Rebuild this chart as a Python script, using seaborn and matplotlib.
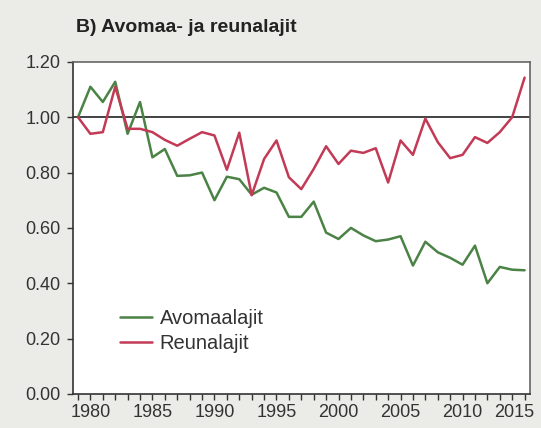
import seaborn as sns
import matplotlib.pyplot as plt
import matplotlib.transforms as mtransforms
import pandas as pd

years = list(range(1979, 2016))
avomaa = [1.00, 1.11, 1.055, 1.128, 0.94, 1.055, 0.855, 0.885, 0.788, 0.79, 0.80, 0.70,
          0.785, 0.776, 0.72, 0.745, 0.728, 0.64, 0.64, 0.695, 0.583, 0.56, 0.60, 0.573,
          0.552, 0.558, 0.57, 0.464, 0.55, 0.512, 0.492, 0.467, 0.536, 0.40, 0.459, 0.449, 0.447]
reuna = [1.00, 0.94, 0.946, 1.11, 0.958, 0.958, 0.946, 0.918, 0.897, 0.922, 0.946, 0.934,
         0.81, 0.944, 0.718, 0.849, 0.916, 0.783, 0.74, 0.813, 0.895, 0.831, 0.879, 0.871,
         0.888, 0.764, 0.916, 0.864, 0.995, 0.91, 0.852, 0.864, 0.928, 0.907, 0.946, 1.00, 1.143]
series_names = ["Avomaalajit", "Reunalajit"]
y_ticks = [0.0, 0.2, 0.4, 0.6, 0.8, 1.0, 1.2]
x_labels = [1980, 1985, 1990, 1995, 2000, 2005, 2010, 2015]

df = pd.DataFrame({
    "year": years * 2,
    "index": avomaa + reuna,
    "group": [series_names[0]] * len(years) + [series_names[1]] * len(years),
})

sns.set_style("white")
plt.rcParams["font.family"] = ["Liberation Sans", "DejaVu Sans"]

fig = plt.figure(figsize=(5.41, 4.28), dpi=100, facecolor="#ebebe8")
ax = fig.add_axes([0.135, 0.0795, 0.845, 0.776])
ax.set_facecolor("white")

sns.lineplot(data=df, x="year", y="index", hue="group", ax=ax,
             palette={"Avomaalajit": "#4b8245", "Reunalajit": "#c23a55"},
             linewidth=1.8)
ax.axhline(1.0, color="#222222", linewidth=1.2, zorder=1)

ax.set_xlim(1978.6, 2015.45)
ax.set_ylim(0, 1.2)
ax.set_yticks(y_ticks)
ax.set_yticklabels([f"{v:.2f}" for v in y_ticks])
ax.set_xticks(x_labels)
ax.set_xticks(years, minor=True)
ax.tick_params(axis="both", which="both", direction="out", length=4, width=1,
               color="#333333", labelsize=13, labelcolor="#333333",
               bottom=True, left=True)
ax.tick_params(axis="y", pad=5)
ax.tick_params(axis="x", which="major", pad=3)
# last year label pulled inside the frame like in the original
last = ax.get_xticklabels()[-1]
last.set_transform(last.get_transform() +
                   mtransforms.ScaledTranslation(-10 / 100, 0, fig.dpi_scale_trans))
ax.set_xlabel("")
ax.set_ylabel("")

for name, sp in ax.spines.items():
    sp.set_visible(True)
    sp.set_color("#666666")
    sp.set_linewidth(1.2)
ax.spines["left"].set_color("#333333")
ax.spines["bottom"].set_color("#333333")

leg = ax.legend(loc="center left", bbox_to_anchor=(0.062, 0.19), frameon=False,
                fontsize=14.5, handlelength=1.6, handletextpad=0.4, labelspacing=0.3)
for t in leg.get_texts():
    t.set_color("#333333")

fig.text(0.14, 0.925, "B) Avomaa- ja reunalajit", fontsize=14, fontweight="bold",
         color="#222222")

fig.savefig("out.png", dpi=100, facecolor=fig.get_facecolor())
